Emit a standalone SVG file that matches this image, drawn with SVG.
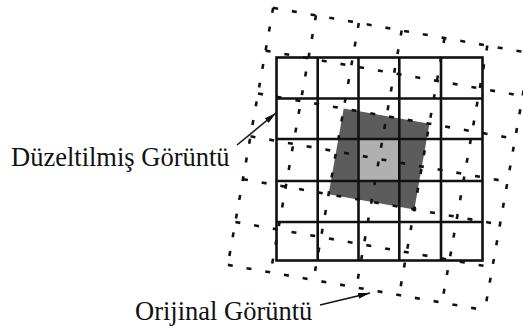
<svg xmlns="http://www.w3.org/2000/svg" width="523" height="331" viewBox="0 0 523 331">
<style>
.solid{stroke:#111;stroke-width:2.6;fill:none}
.dash{stroke:#111;stroke-width:2.6;fill:none;stroke-dasharray:5 14}
.lbl{font-family:"Liberation Serif","Times New Roman",serif;font-size:26.5px;fill:#111}
.arr{stroke:#111;stroke-width:1.5;fill:none}
</style>
<defs>
<marker id="ah" viewBox="0 0 12 6" refX="12" refY="3" markerWidth="12" markerHeight="6" markerUnits="userSpaceOnUse" orient="auto">
<path d="M0,0 L12,3 L0,6 z" fill="#111"/>
</marker>
</defs>
<rect width="523" height="331" fill="#fff"/>
<g id="shaded">
<rect x="-43.5" y="-43.5" width="87" height="87" fill="#5c5c5c" transform="translate(379,159) rotate(10)"/>
<rect x="357.5" y="139" width="41.5" height="42" fill="#b0b0b0"/>
</g>
<g id="corrected-grid" class="solid">
<rect x="276.5" y="57.5" width="206" height="203"/>
<path d="M317.7,57.5V260.5M358.5,57.5V260.5M399.3,57.5V260.5M441,57.5V260.5M276.5,98.5H482.5M276.5,139H482.5M276.5,181H482.5M276.5,222H482.5"/>
</g>
<g id="original-grid" class="dash" transform="translate(379,159) rotate(10)">
<path d="M-130.5,-130.5V130.5M-87,-130.5V130.5M-43.5,-130.5V130.5M0,-130.5V130.5M43.5,-130.5V130.5M87,-130.5V130.5M130.5,-130.5V130.5"/>
<path d="M-130.5,-130.5H130.5M-130.5,-87H130.5M-130.5,-43.5H130.5M-130.5,0H130.5M-130.5,43.5H130.5M-130.5,87H130.5M-130.5,130.5H130.5"/>
</g>
<g id="connectors">
<line class="arr" x1="237" y1="145" x2="276" y2="113" marker-end="url(#ah)"/>
<line class="arr" x1="320" y1="305" x2="370" y2="293" marker-end="url(#ah)"/>
</g>
<g id="label-corrected"><text class="lbl" x="11" y="166">Düzeltilmiş Görüntü</text></g>
<g id="label-original"><text class="lbl" x="135" y="320">Orijinal Görüntü</text></g>
</svg>
